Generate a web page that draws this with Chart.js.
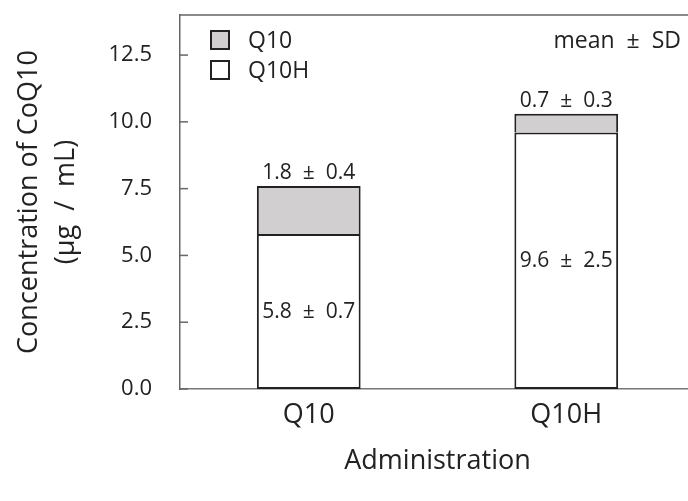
<!DOCTYPE html>
<html>
<head>
<meta charset="utf-8">
<script src="https://cdn.jsdelivr.net/npm/chart.js@4"></script>
<style>
  html, body { margin: 0; padding: 0; background: #fff; overflow: hidden; }
  #wrap { width: 700px; height: 501px; position: relative; }
</style>
</head>
<body>
<div id="wrap"><canvas id="coqChart"></canvas></div>
<script>
const categories = ['Q10', 'Q10H'];
const reducedValues = [5.8, 9.6];   // Q10H part (bottom, white)
const reducedSD = [0.7, 2.5];
const oxidizedValues = [1.8, 0.7];  // Q10 part (top, grey)
const oxidizedSD = [0.4, 0.3];
const yTicks = [0, 2.5, 5, 7.5, 10, 12.5];

const FONT = "'Open Sans', 'Noto Sans', sans-serif";
const INK = '#222';
const PM = '\u00a0\u00a0\u00b1\u00a0\u00a0';

// value labels, "mean ± SD", legend, inward ticks and frame
const extras = {
    id: 'extras',
    afterDatasetsDraw(chart) {
        const ctx = chart.ctx;
        const area = chart.chartArea;
        const x = chart.scales.x;
        const y = chart.scales.y;
        ctx.save();

        ctx.strokeStyle = '#666';
        ctx.lineWidth = 1.5;
        ctx.beginPath();
        ctx.moveTo(area.left, area.top);
        ctx.lineTo(area.right, area.top);
        ctx.lineTo(area.right, area.bottom);
        ctx.stroke();

        yTicks.forEach(v => {
            const py = y.getPixelForValue(v);
            ctx.beginPath();
            ctx.moveTo(area.left, py);
            ctx.lineTo(area.left + 8, py);
            ctx.stroke();
        });

        ctx.fillStyle = INK;
        ctx.font = '21px ' + FONT;
        ctx.textAlign = 'center';
        ctx.textBaseline = 'middle';
        categories.forEach((c, i) => {
            const cx = x.getPixelForValue(i);
            const top = y.getPixelForValue(reducedValues[i] + oxidizedValues[i]);
            ctx.fillText(oxidizedValues[i].toFixed(1) + PM + oxidizedSD[i].toFixed(1), cx, top - 13);
            const mid = y.getPixelForValue(reducedValues[i] / 2);
            ctx.fillText(reducedValues[i].toFixed(1) + PM + reducedSD[i].toFixed(1), cx, mid);
        });

        ctx.textAlign = 'right';
        ctx.font = '23px ' + FONT;
        ctx.fillText('mean' + PM + 'SD', 681, area.top + 26);

        // legend, top segment first
        const ds = chart.data.datasets.slice().reverse();
        ctx.textAlign = 'left';
        ctx.font = '23px ' + FONT;
        ds.forEach((d, i) => {
            const by = area.top + 16 + i * 30;
            ctx.fillStyle = d.backgroundColor;
            ctx.fillRect(area.left + 31, by, 18, 18);
            ctx.strokeStyle = INK;
            ctx.lineWidth = 2;
            ctx.strokeRect(area.left + 31, by, 18, 18);
            ctx.fillStyle = INK;
            ctx.fillText(d.label, area.left + 68, by + 10);
        });
        ctx.restore();
    }
};

new Chart(document.getElementById('coqChart'), {
    type: 'bar',
    data: {
        labels: categories,
        datasets: [{
            label: 'Q10H',
            data: reducedValues,
            backgroundColor: '#ffffff',
            borderColor: INK,
            borderWidth: 2,
            borderSkipped: false
        }, {
            label: 'Q10',
            data: oxidizedValues,
            backgroundColor: '#d1cfd0',
            borderColor: INK,
            borderWidth: 2,
            borderSkipped: 'bottom'
        }]
    },
    options: {
        responsive: true,
        maintainAspectRatio: false,
        animation: false,
        devicePixelRatio: 1,
        layout: { padding: { top: 15, right: 5, left: 0, bottom: 0 } },
        categoryPercentage: 1,
        barPercentage: 0.403,
        plugins: { legend: { display: false }, tooltip: { enabled: false } },
        scales: {
            x: {
                stacked: true,
                grid: { display: false, drawTicks: false },
                border: { color: '#777', width: 1.5 },
                ticks: { color: INK, font: { family: FONT, size: 27 }, padding: 10 },
                title: {
                    display: true, text: 'Administration', color: INK,
                    font: { family: FONT, size: 27 }, padding: { top: 0, bottom: 23 }
                },
                afterFit(s) { s.height = 112; s.paddingLeft = 0; s.paddingRight = 0; }
            },
            y: {
                stacked: true,
                min: 0,
                max: 14,
                grid: { display: false, drawTicks: false },
                border: { color: '#666', width: 1.5 },
                afterBuildTicks(s) { s.ticks = yTicks.map(v => ({ value: v })); },
                ticks: {
                    color: INK, font: { family: FONT, size: 22 }, padding: 28,
                    callback: v => Number(v).toFixed(1)
                },
                title: {
                    display: true, text: ['Concentration of CoQ10', '(\u00b5g\u00a0\u00a0/\u00a0\u00a0mL)'], color: INK,
                    font: { family: FONT, size: 27, lineHeight: 1.37 }, padding: { top: 11, bottom: 0 }
                },
                afterFit(s) { s.width = 180; s.paddingTop = 0; s.paddingBottom = 0; }
            }
        }
    },
    plugins: [extras]
});
</script>
</body>
</html>
